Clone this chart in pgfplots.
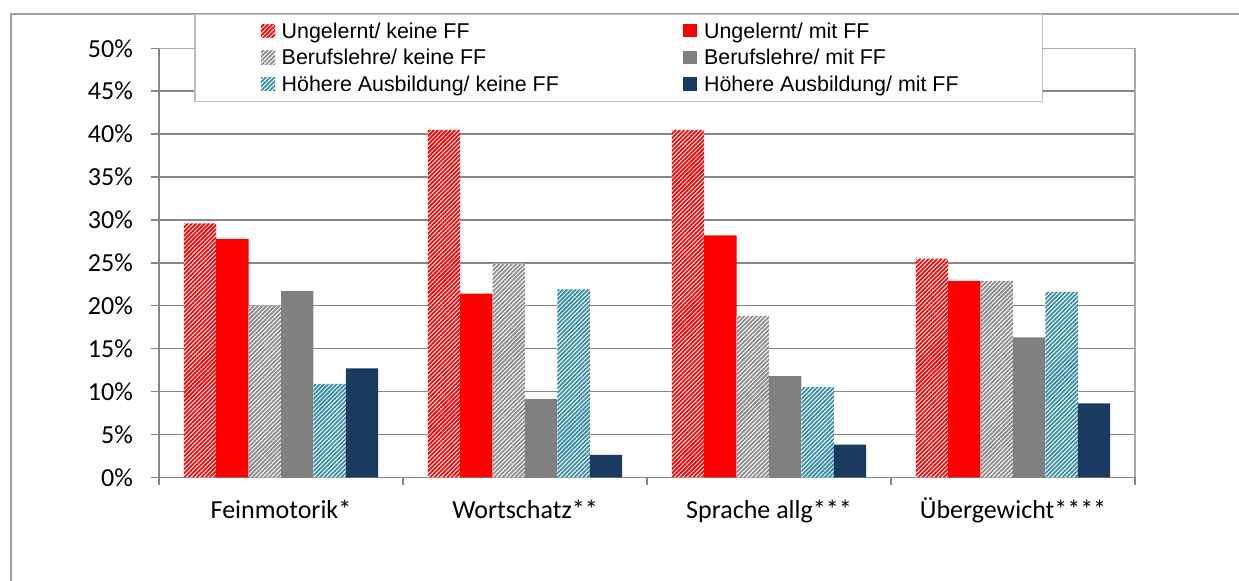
\documentclass[border=0pt]{standalone}
\usepackage{fontspec}
\setmainfont{Carlito}
\newfontfamily\legfont{Liberation Sans}
\usepackage{pgfplots}
\pgfplotsset{compat=1.18}
\usetikzlibrary{patterns.meta}
\definecolor{gridc}{RGB}{134,134,134}
\definecolor{framec}{RGB}{160,160,160}
\definecolor{legc}{RGB}{191,191,191}
\definecolor{bordc}{RGB}{170,170,170}
\definecolor{grayhatch}{RGB}{140,140,140}
\definecolor{graysolid}{RGB}{128,128,128}
\definecolor{tealc}{RGB}{55,140,165}
\definecolor{navyc}{RGB}{26,58,96}
\pgfplotsset{
  mylegend/.style={legend image code/.code={%
    \path (-33pt,0) (10.35pt,0);
    \path[##1] (0pt,-2.98pt) rectangle (7pt,3.68pt);}},
  hatch/.style={fill=white, draw=none, postaction={pattern={Lines[angle=45,distance=1.5pt,line width=0.9pt]}, pattern color=#1}},
}
\begin{document}
\begin{tikzpicture}[x=1pt,y=1pt]
\useasboundingbox (0,0) rectangle (619.5,290.5);
\draw[framec, line width=1pt] (5.5,0) -- (5.5,283.5) -- (619.5,283.5);
\begin{axis}[
  at={(79.5pt,51.85pt)}, anchor=south west,
  scale only axis, width=488pt, height=214.5pt,
  ybar=0pt, bar width=16.2pt,
  xmin=-0.5, xmax=3.5, ymin=0, ymax=50,
  axis x line*=bottom, axis y line*=left,
  axis line style={draw=gridc, line width=0.75pt},
  xtick={-0.5,0.5,1.5,2.5,3.5}, xticklabels={},
  extra x ticks={0,1,2,3},
  extra x tick labels={Feinmotorik*,Wortschatz**,Sprache allg***,Übergewicht****},
  extra x tick style={major tick length=0pt, grid=none},
  ytick={0,5,...,50},
  yticklabels={0\%,5\%,10\%,15\%,20\%,25\%,30\%,35\%,40\%,45\%,50\%},
  tick align=outside, major tick length=4pt,
  tick style={draw=gridc, line width=0.75pt},
  ymajorgrids, grid style={draw=gridc, line width=0.75pt},
  tick label style={font=\fontsize{13}{15}\selectfont},
  yticklabel style={anchor=east, inner sep=0pt, xshift=-8.85pt},
  xticklabel style={anchor=base, inner sep=0pt, yshift=-20.65pt},
  legend columns=2,
  legend style={at={(0.03617,1.08)}, anchor=north west, draw=legc, line width=0.75pt,
    inner xsep=0pt, inner ysep=1.67pt,
    nodes={inner sep=0pt, text height=9.98pt, text depth=3.37pt, anchor=west,
      font=\legfont\fontsize{10.7}{12}\selectfont},
    /tikz/every even column/.append style={column sep=0pt}},
  legend cell align=left,
  after end axis/.code={\draw[bordc, line width=0.75pt] (rel axis cs:0,1) -- (rel axis cs:1,1) -- (rel axis cs:1,0);},
]
\addplot[hatch=red, mylegend] coordinates {(0,29.6) (1,40.5) (2,40.5) (3,25.5)};
\addlegendentry{\makebox[167.85pt][l]{Ungelernt/ keine FF}}
\addplot[fill=red, draw=none, mylegend] coordinates {(0,27.8) (1,21.4) (2,28.2) (3,22.9)};
\addlegendentry{\makebox[169.15pt][l]{Ungelernt/ mit FF}}
\addplot[hatch=grayhatch, mylegend] coordinates {(0,20.0) (1,24.9) (2,18.8) (3,22.9)};
\addlegendentry{\makebox[167.85pt][l]{Berufslehre/ keine FF}}
\addplot[fill=graysolid, draw=none, mylegend] coordinates {(0,21.7) (1,9.1) (2,11.8) (3,16.3)};
\addlegendentry{\makebox[169.15pt][l]{Berufslehre/ mit FF}}
\addplot[hatch=tealc, mylegend] coordinates {(0,10.9) (1,21.9) (2,10.5) (3,21.6)};
\addlegendentry{\makebox[167.85pt][l]{Höhere Ausbildung/ keine FF}}
\addplot[fill=navyc, draw=none, mylegend] coordinates {(0,12.7) (1,2.6) (2,3.8) (3,8.6)};
\addlegendentry{\makebox[169.15pt][l]{Höhere Ausbildung/ mit FF}}
\end{axis}
\end{tikzpicture}
\end{document}
